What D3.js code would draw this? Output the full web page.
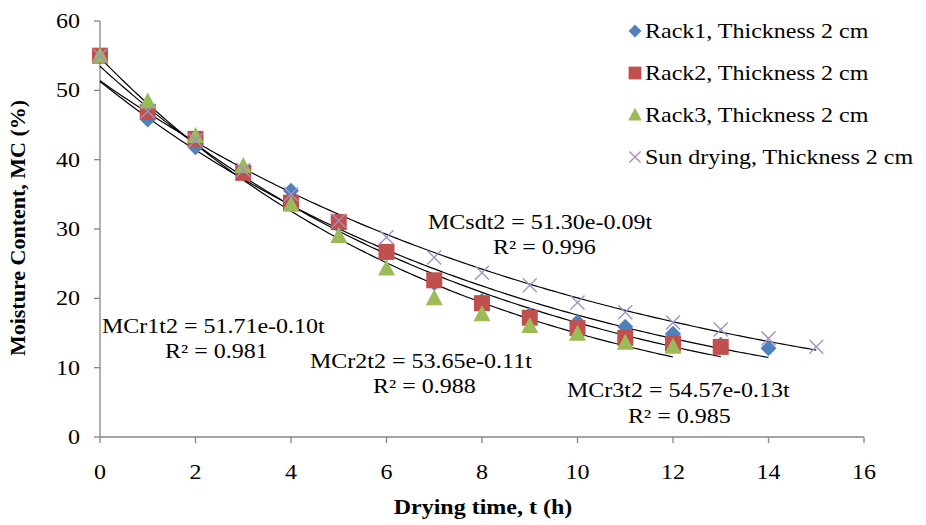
<!DOCTYPE html>
<html><head><meta charset="utf-8">
<script src="https://cdn.jsdelivr.net/npm/d3@7"></script>
<style>body{margin:0;background:#fff}svg{display:block}text{font-family:"Liberation Serif","Times New Roman",serif;fill:#000}</style>
</head><body><svg id="c" width="926" height="525"></svg>
<script>
// ---- data ----
const xTicks = [0, 2, 4, 6, 8, 10, 12, 14, 16];
const yTicks = [0, 10, 20, 30, 40, 50, 60];
const seriesNames = ["Rack1, Thickness 2 cm", "Rack2, Thickness 2 cm", "Rack3, Thickness 2 cm", "Sun drying, Thickness 2 cm"];
const rack1 = [55, 45.8, 41.8, 38.0, 35.5, 30.5, 26.5, 22.2, 19.6, 17.6, 16.6, 15.9, 14.9, 13.3, 12.8];
const rack2 = [55, 46.9, 43.0, 38.1, 33.8, 31.0, 26.7, 22.6, 19.3, 17.2, 15.7, 14.3, 13.5, 13.0];
const rack3 = [55, 48.4, 43.4, 39.1, 33.5, 29.0, 24.3, 20.0, 17.7, 16.0, 14.9, 13.6, 13.0];
const sun   = [55, 47.0, 42.8, 38.5, 35.0, 31.2, 28.8, 25.9, 23.7, 21.9, 19.4, 18.0, 16.5, 15.5, 14.2, 13.0];
const eqLabels = ["MCr1t2 = 51.71e-0.10t", "MCr2t2 = 53.65e-0.11t", "MCr3t2 = 54.57e-0.13t", "MCsdt2 = 51.30e-0.09t"];
const r2Labels = ["R² = 0.981", "R² = 0.988", "R² = 0.985", "R² = 0.996"];

const svg = d3.select("#c");
const x = d3.scaleLinear().domain([0, 16]).range([100, 864]);
const y = d3.scaleLinear().domain([0, 60]).range([437, 21]);
const SX = 1.2;
function stext(g, tx, ty, str, size, anchor, bold) {
  const t = g.append("g").attr("transform", `translate(${tx},${ty}) scale(${SX},1)`)
    .append("text").attr("text-anchor", anchor || "start").style("font-size", size + "px").text(str);
  if (bold) t.style("font-weight", "bold");
  return t;
}

// axes
const axisColor = "#868686";
const ax = svg.append("g");
ax.append("line").attr("x1", x(0)).attr("x2", x(0)).attr("y1", y(0)).attr("y2", y(60)).attr("stroke", axisColor).attr("stroke-width", 1.3);
ax.append("line").attr("x1", x(0)).attr("x2", x(16)).attr("y1", y(0)).attr("y2", y(0)).attr("stroke", axisColor).attr("stroke-width", 1.3);
yTicks.forEach(v => {
  ax.append("line").attr("x1", x(0) - 6).attr("x2", x(0)).attr("y1", y(v)).attr("y2", y(v)).attr("stroke", axisColor).attr("stroke-width", 1.3);
  stext(ax, 80, y(v) + 7, String(v), 20, "end");
});
xTicks.forEach(v => {
  ax.append("line").attr("x1", x(v)).attr("x2", x(v)).attr("y1", y(0)).attr("y2", y(0) + 6).attr("stroke", axisColor).attr("stroke-width", 1.3);
  stext(ax, x(v), 479, String(v), 20, "middle");
});
stext(svg, 483, 514, "Drying time, t (h)", 20, "middle", true);
svg.append("g").attr("transform", "translate(25,228) rotate(-90) scale(1.1,1)")
  .append("text").attr("text-anchor", "middle").style("font-size", "20px").style("font-weight", "bold").text("Moisture Content, MC (%)");

// exponential trend fit (least squares on ln y)
function expFit(vals) {
  const n = vals.length;
  let st = 0, sl = 0, stt = 0, stl = 0;
  vals.forEach((v, t) => { const l = Math.log(v); st += t; sl += l; stt += t * t; stl += t * l; });
  const b = (n * stl - st * sl) / (n * stt - st * st);
  const a = Math.exp((sl - b * st) / n);
  return { a, b, n };
}
const allSeries = [rack1, rack2, rack3, sun];
const line = d3.line().x(d => x(d[0])).y(d => y(d[1]));
allSeries.forEach(s => {
  const f = expFit(s);
  const pts = d3.range(0, s.length - 1 + 1e-9, 0.1).map(t => [t, f.a * Math.exp(f.b * t)]);
  svg.append("path").attr("d", line(pts)).attr("fill", "none").attr("stroke", "#000").attr("stroke-width", 1.2);
});

// markers
const colors = ["#4f81bd", "#c0504d", "#9bbb59", "#a28fc6"];
function marker(g, i, cx, cy, k) {
  k = k || 1;
  if (i === 0) g.append("path").attr("d", `M${cx},${cy-8*k}L${cx+8*k},${cy}L${cx},${cy+8*k}L${cx-8*k},${cy}Z`).attr("fill", colors[0]);
  else if (i === 1) g.append("rect").attr("x", cx - 8*k).attr("y", cy - 8*k).attr("width", 16*k).attr("height", 16*k).attr("fill", colors[1]);
  else if (i === 2) g.append("path").attr("d", `M${cx},${cy-9*k}L${cx+8.5*k},${cy+7*k}L${cx-8.5*k},${cy+7*k}Z`).attr("fill", colors[2]);
  else g.append("path").attr("d", `M${cx-7*k},${cy-7*k}L${cx+7*k},${cy+7*k}M${cx-7*k},${cy+7*k}L${cx+7*k},${cy-7*k}`).attr("stroke", colors[3]).attr("stroke-width", 1.4).attr("fill", "none");
}
const mg = svg.append("g");
allSeries.forEach((s, i) => s.forEach((v, t) => marker(mg, i, x(t), y(v))));

// legend
const lg = svg.append("g");
seriesNames.forEach((nm, i) => {
  const ly = 31 + i * 42;
  marker(lg, i, 635, ly, 0.8);
  stext(lg, 645, ly + 7, nm, 20, "start");
});

// equation labels
const eqPos = [[102, 333, 165, 358], [310, 368, 373, 393], [567, 397, 628, 423], [428, 229, 493, 254]];
eqLabels.forEach((e, i) => {
  const p = eqPos[i];
  stext(svg, p[0], p[1], e, 20, "start");
  stext(svg, p[2], p[3], r2Labels[i], 20, "start");
});
</script></body></html>
